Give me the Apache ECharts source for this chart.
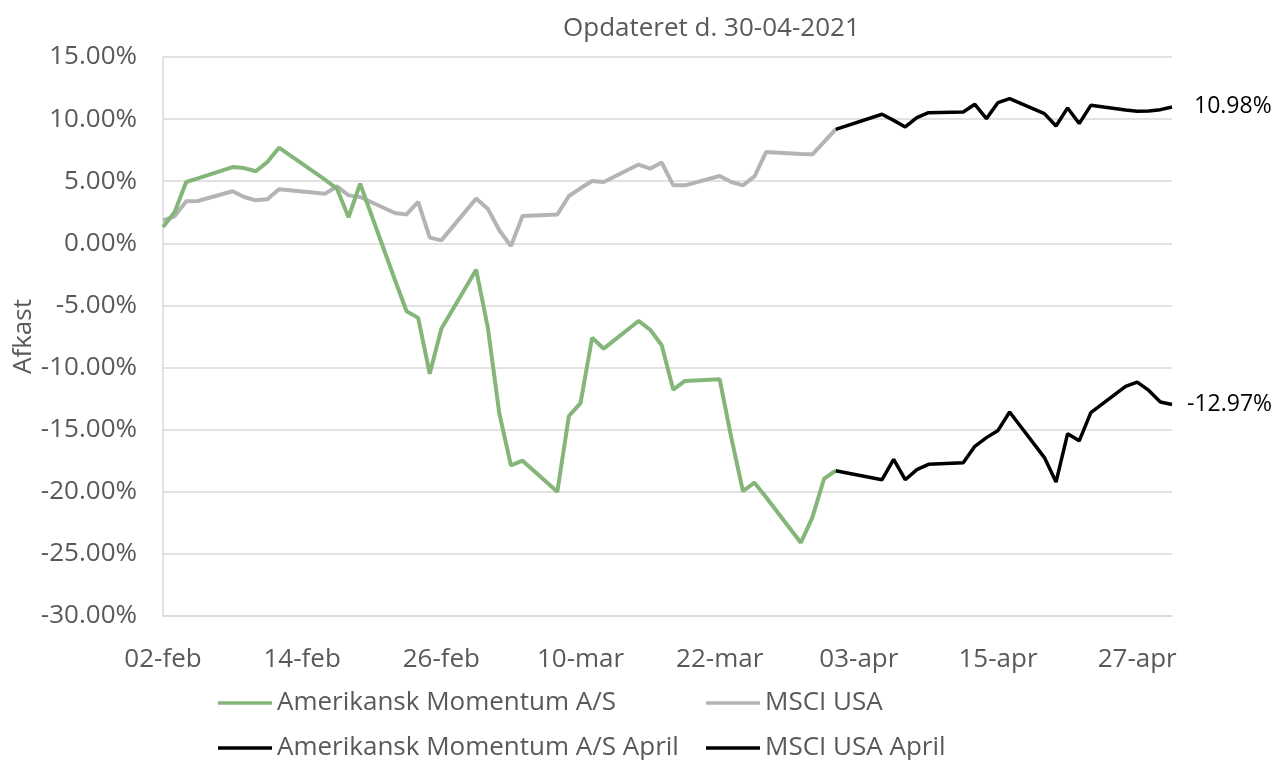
<!DOCTYPE html>
<html>
<head>
<meta charset="utf-8">
<script src="https://cdn.jsdelivr.net/npm/echarts@6/dist/echarts.min.js"></script>
<style>html,body{margin:0;padding:0;background:#fff}#c{width:1277px;height:760px}</style>
</head>
<body>
<div id="c"></div>
<script>
const startDate = '2021-02-02';
const titleText = 'Opdateret d. 30-04-2021';
const yAxisName = 'Afkast';
const monthNames = ['jan','feb','mar','apr','maj','jun','jul','aug','sep','okt','nov','dec'];
const seriesNames = ['Amerikansk Momentum A/S', 'MSCI USA', 'Amerikansk Momentum A/S April', 'MSCI USA April'];

const febMarDates = ['2021-02-02','2021-02-03','2021-02-04','2021-02-05','2021-02-08','2021-02-09','2021-02-10','2021-02-11','2021-02-12','2021-02-16','2021-02-17','2021-02-18','2021-02-19','2021-02-22','2021-02-23','2021-02-24','2021-02-25','2021-02-26','2021-03-01','2021-03-02','2021-03-03','2021-03-04','2021-03-05','2021-03-08','2021-03-09','2021-03-10','2021-03-11','2021-03-12','2021-03-15','2021-03-16','2021-03-17','2021-03-18','2021-03-19','2021-03-22','2021-03-23','2021-03-24','2021-03-25','2021-03-26','2021-03-29','2021-03-30','2021-03-31','2021-04-01'];
const fundFebMar = [1.32,2.5,4.94,5.23,6.14,6.06,5.8,6.55,7.7,5.1,4.4,2.1,4.8,-2.95,-5.47,-6.0,-10.5,-6.87,-2.12,-6.74,-13.7,-17.87,-17.5,-20.0,-13.9,-12.86,-7.6,-8.48,-6.25,-6.95,-8.2,-11.78,-11.08,-10.95,-15.64,-19.94,-19.27,-20.44,-24.1,-22.04,-18.95,-18.3];
const msciFebMar = [1.85,2.17,3.38,3.41,4.19,3.73,3.46,3.54,4.35,4.0,4.59,3.86,3.73,2.44,2.33,3.33,0.46,0.24,3.6,2.79,1.05,-0.22,2.2,2.32,3.81,4.43,5.02,4.94,6.34,6.01,6.5,4.67,4.67,5.42,4.94,4.67,5.39,7.35,7.2,7.17,8.16,9.18];

const aprDates = ['2021-04-01','2021-04-05','2021-04-06','2021-04-07','2021-04-08','2021-04-09','2021-04-12','2021-04-13','2021-04-14','2021-04-15','2021-04-16','2021-04-19','2021-04-20','2021-04-21','2021-04-22','2021-04-23','2021-04-26','2021-04-27','2021-04-28','2021-04-29','2021-04-30'];
const fundApr = [-18.3,-19.03,-17.39,-19.03,-18.22,-17.79,-17.66,-16.34,-15.64,-15.06,-13.58,-17.25,-19.22,-15.32,-15.9,-13.63,-11.51,-11.17,-11.84,-12.78,-12.97];
const msciApr = [9.18,10.39,9.9,9.37,10.12,10.52,10.57,11.19,10.04,11.33,11.65,10.44,9.44,10.9,9.64,11.11,10.73,10.63,10.66,10.76,10.98];

const xMin = 0, xMax = 87, xInterval = 12;
const yMin = -30, yMax = 15, yInterval = 5;

const DAY = 86400000;
const t0 = Date.parse(startDate + 'T00:00:00Z');
function dayIdx(d){ return Math.round((Date.parse(d + 'T00:00:00Z') - t0) / DAY); }
function pairs(dates, vals){ return dates.map((d,i)=>[dayIdx(d), vals[i]]); }
function dayLabel(v){
  const dt = new Date(t0 + v*DAY);
  const dd = String(dt.getUTCDate()).padStart(2,'0');
  return dd + '-' + monthNames[dt.getUTCMonth()];
}

const FONT = 'Open Sans';
const TXT = '#595959';
const GREEN = '#84b67a';
const GREY = '#b4b4b4';
const BLACK = '#000000';

const chart = echarts.init(document.getElementById('c'));
function legendAt(name, color, left, top){
  return {
    data: [{name: name, itemStyle: {color: color}}],
    left: left, top: top, orient: 'horizontal',
    icon: 'rect', itemWidth: 54, itemHeight: 3.5, itemGap: 0,
    padding: 0,
    textStyle: {fontFamily: FONT, fontSize: 26, color: TXT, lineHeight: 30},
    selectedMode: false
  };
}
chart.setOption({
  animation: false,
  backgroundColor: '#fff',
  title: {
    text: titleText, left: 558, top: 11,
    textStyle: {fontFamily: FONT, fontSize: 26, fontWeight: 'normal', color: TXT}
  },
  grid: {left: 163, right: 105, top: 57, bottom: 144, containLabel: false, outerBoundsMode: 'none'},
  legend: [
    legendAt(seriesNames[0], GREEN, 218, 688),
    legendAt(seriesNames[1], GREY, 706, 688),
    legendAt(seriesNames[2], BLACK, 218, 733),
    legendAt(seriesNames[3], BLACK, 706, 733)
  ],
  xAxis: {
    type: 'value', min: xMin, max: xMax, interval: xInterval,
    axisLine: {show: true, onZero: false, lineStyle: {color: '#d9d9d9', width: 1.5}},
    axisTick: {show: false},
    splitLine: {show: false},
    axisLabel: {
      showMaxLabel: false, margin: 31,
      fontFamily: FONT, fontSize: 26, color: TXT,
      formatter: v => dayLabel(v)
    }
  },
  yAxis: {
    type: 'value', min: yMin, max: yMax, interval: yInterval,
    name: yAxisName, nameLocation: 'middle', nameGap: 126, nameRotate: 90,
    nameMoveOverlap: false,
    nameTextStyle: {fontFamily: FONT, fontSize: 26, color: TXT},
    axisLine: {show: true, lineStyle: {color: '#d9d9d9', width: 1.5}},
    axisTick: {show: false},
    splitLine: {show: true, lineStyle: {color: '#d9d9d9', width: 1.5}},
    axisLabel: {
      margin: 26, fontFamily: FONT, fontSize: 26, color: TXT,
      formatter: v => v.toFixed(2) + '%'
    }
  },
  series: [
    {name: seriesNames[1], type: 'line', data: pairs(febMarDates, msciFebMar), symbol: 'none',
     lineStyle: {color: GREY, width: 4}, itemStyle: {color: GREY}, z: 2},
    {name: seriesNames[0], type: 'line', data: pairs(febMarDates, fundFebMar), symbol: 'none',
     lineStyle: {color: GREEN, width: 4}, itemStyle: {color: GREEN}, z: 3},
    {name: seriesNames[2], type: 'line', data: pairs(aprDates, fundApr), symbol: 'none',
     lineStyle: {color: BLACK, width: 3.5}, itemStyle: {color: BLACK}, z: 4,
     endLabel: {show: true, distance: 15, fontFamily: FONT, fontSize: 23, color: BLACK,
       formatter: p => p.value[1].toFixed(2) + '%'}},
    {name: seriesNames[3], type: 'line', data: pairs(aprDates, msciApr), symbol: 'none',
     lineStyle: {color: BLACK, width: 3.5}, itemStyle: {color: BLACK}, z: 4,
     endLabel: {show: true, distance: 22, fontFamily: FONT, fontSize: 23, color: BLACK,
       formatter: p => p.value[1].toFixed(2) + '%'}}
  ]
});
</script>
</body>
</html>
